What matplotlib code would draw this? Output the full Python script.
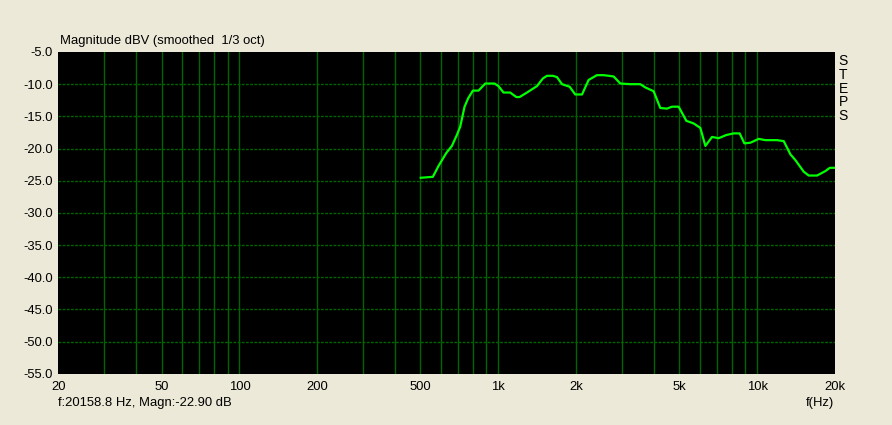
import numpy as np
import matplotlib
matplotlib.use("Agg")
import matplotlib.pyplot as plt
from matplotlib.ticker import FixedLocator, NullFormatter

# Data (frequency Hz, magnitude dBV)
freq = [502, 559, 588, 630, 662, 692, 713, 741, 765, 798, 839, 891, 967, 1002,
        1048, 1112, 1174, 1209, 1291, 1411, 1488, 1542, 1626, 1686, 1763, 1887,
        1984, 2107, 2234, 2405, 2553, 2791, 2962, 3237, 3537, 3698, 3984, 4227,
        4487, 4690, 4977, 5330, 5687, 6036, 6313, 6700, 7100, 7610, 8120, 8565,
        8930, 9425, 10143, 10766, 11945, 12677, 13446, 14060, 15140, 15830,
        17050, 18370, 19100, 20000]
mag = [-24.55, -24.4, -22.7, -20.7, -19.6, -17.9, -16.6, -13.5, -12.2, -11.0,
       -11.0, -9.9, -9.9, -10.3, -11.3, -11.3, -12.0, -12.0, -11.3, -10.3, -9.1,
       -8.7, -8.7, -8.9, -10.0, -10.4, -11.6, -11.6, -9.35, -8.6, -8.6, -8.8,
       -9.9, -10.0, -10.0, -10.5, -11.1, -13.7, -13.8, -13.5, -13.5, -15.7,
       -16.1, -16.8, -19.6, -18.2, -18.4, -17.9, -17.65, -17.65, -19.2, -19.1,
       -18.5, -18.7, -18.7, -18.85, -20.9, -21.8, -23.6, -24.2, -24.2, -23.5,
       -23.0, -23.0]

x_ticks = [20, 50, 100, 200, 500, 1000, 2000, 5000, 10000, 20000]
x_tick_labels = ["20", "50", "100", "200", "500", "1k", "2k", "5k", "10k", "20k"]
y_ticks = [-5, -10, -15, -20, -25, -30, -35, -40, -45, -50, -55]

bg = "#ece9d8"
grid_col = "#006400"
fs = 9.4
fam = "Liberation Sans"

fig = plt.figure(figsize=(8.92, 4.25), dpi=100, facecolor=bg)
ax = fig.add_axes([58.5 / 892, 1 - 373.7 / 425, (835 - 58.5) / 892, (373.7 - 52) / 425])
ax.set_facecolor("black")
ax.set_xscale("log")
ax.set_xlim(20, 20000)
ax.set_ylim(-55, -5)

# grid lines
grid_x = []
for dec in [10, 100, 1000, 10000]:
    for m in range(1, 10):
        v = m * dec
        if 20 < v < 20000:
            grid_x.append(v)
for v in grid_x:
    ax.axvline(v, color=grid_col, lw=1.0, zorder=1)
for v in y_ticks[1:-1]:
    ax.axhline(v, color=grid_col, lw=1.0, ls=(0, (2, 1)), zorder=1)

ax.plot(freq, mag, color="#00ff00", lw=1.6, zorder=3)

for s in ax.spines.values():
    s.set_visible(False)
ax.tick_params(length=0, colors="black")
ax.xaxis.set_major_locator(FixedLocator(x_ticks))
ax.xaxis.set_minor_formatter(NullFormatter())
ax.xaxis.set_minor_locator(FixedLocator([]))
ax.set_xticks(x_ticks)
ax.set_xticklabels(x_tick_labels, fontsize=fs, family=fam)
ax.set_yticks(y_ticks)
ax.set_yticklabels([f"{v:.1f}" for v in y_ticks], fontsize=fs, family=fam)
ax.tick_params(axis="x", pad=5)
ax.tick_params(axis="y", pad=4)

fig.text(60 / 892, 1 - 41 / 425, "Magnitude dBV (smoothed  1/3 oct)", fontsize=fs,
         family=fam, va="center", ha="left")
fig.text(58 / 892, 1 - 403 / 425, "f:20158.8 Hz, Magn:-22.90 dB", fontsize=fs,
         family=fam, va="center", ha="left")
fig.text(820 / 892, 1 - 403 / 425, "f(Hz)", fontsize=fs,
         family=fam, va="center", ha="center")
for i, ch in enumerate("STEPS"):
    fig.text(843 / 892, 1 - (61 + i * 13.8) / 425, ch, fontsize=fs + 0.6,
             family=fam, va="center", ha="center")

fig.savefig("out.png", dpi=100, facecolor=bg)
